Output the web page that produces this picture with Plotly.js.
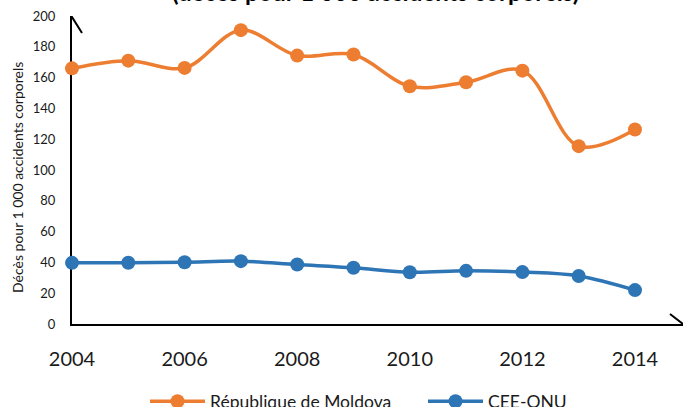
<!DOCTYPE html>
<html>
<head>
<meta charset="utf-8">
<script src="https://cdn.plot.ly/plotly-3.0.1.min.js"></script>
<style>html,body{margin:0;padding:0;background:#fff;}#chart{width:683px;height:407px;}</style>
</head>
<body>
<div id="chart"></div>
<script>
var years = [2004, 2005, 2006, 2007, 2008, 2009, 2010, 2011, 2012, 2013, 2014];
var moldova = [166, 171, 166.3, 190.8, 174.3, 175, 154.4, 157, 164.5, 115.5, 126.3];
var ceeOnu = [39.7, 39.8, 40.1, 40.8, 38.6, 36.5, 33.6, 34.5, 33.7, 31.2, 22];
var seriesNames = ["République de Moldova", "CEE-ONU"];
var xTickVals = [2004, 2006, 2008, 2010, 2012, 2014];
var yTickVals = [0, 20, 40, 60, 80, 100, 120, 140, 160, 180, 200];
var titleText = "(décès pour 1 000 accidents corporels)";
var yTitleText = "Décès pour 1 000 accidents corporels";

var FONT = "Lato, 'Open Sans', sans-serif";
var orange = "#ED7D31", blue = "#2E75B6";

var traces = [
  {x: years, y: moldova, name: seriesNames[0], type: "scatter", mode: "lines+markers",
   line: {color: orange, width: 3.5, shape: "spline", smoothing: 1},
   marker: {color: orange, size: 14, symbol: "circle"}, cliponaxis: false, legend: "legend"},
  {x: years, y: ceeOnu, name: seriesNames[1], type: "scatter", mode: "lines+markers",
   line: {color: blue, width: 3.5, shape: "spline", smoothing: 1},
   marker: {color: blue, size: 14, symbol: "circle"}, cliponaxis: false, legend: "legend2"}
];

function legendAt(px) {
  return {orientation: "h", xref: "container", x: px / 683, xanchor: "left",
          yref: "container", y: 0.014, yanchor: "middle",
          font: {family: FONT, size: 17.5, color: "#1a1a1a"},
          itemwidth: 55, bgcolor: "rgba(0,0,0,0)"};
}

var layout = {
  width: 683, height: 407,
  margin: {l: 72, r: 0, t: 16, b: 83},
  paper_bgcolor: "#fff", plot_bgcolor: "#fff",
  font: {family: FONT, color: "#1a1a1a"},
  showlegend: true,
  legend: legendAt(145),
  legend2: legendAt(423),
  xaxis: {range: [2004, 2014.853], tickvals: xTickVals, ticktext: xTickVals.map(String),
          showgrid: false, zeroline: false, showline: true, linecolor: "#000", linewidth: 2,
          ticks: "", ticklabelstandoff: 16, tickfont: {family: FONT, size: 20, color: "#1a1a1a"},
          layer: "below traces", fixedrange: true},
  yaxis: {range: [0, 200], tickvals: yTickVals, ticktext: yTickVals.map(String),
          showgrid: false, zeroline: false, showline: true, linecolor: "#000", linewidth: 2,
          ticks: "", ticklabelstandoff: 12, tickfont: {family: FONT, size: 13, color: "#1a1a1a"},
          layer: "below traces", fixedrange: true},
  annotations: [
    {text: "<b>" + titleText + "</b>", xref: "paper", yref: "paper", x: (375 - 72) / 611, y: 1.027,
     xanchor: "center", yanchor: "bottom", showarrow: false,
     font: {family: FONT, size: 24, color: "#000"}},
    {text: yTitleText, xref: "paper", yref: "paper", x: (17 - 72) / 611, y: (324 - 178) / 308,
     xanchor: "center", yanchor: "middle", textangle: -90, showarrow: false,
     font: {family: FONT, size: 14, color: "#1a1a1a"}}
  ],
  shapes: [
    {type: "path", xref: "x", yref: "y", xsizemode: "pixel", ysizemode: "pixel",
     xanchor: 2004, yanchor: 200, path: "M -10 -17 L 0 -1 L 10 -17",
     line: {color: "#000", width: 2}},
    {type: "path", xref: "paper", yref: "y", xsizemode: "pixel", ysizemode: "pixel",
     xanchor: 1, yanchor: 0, path: "M -13 10 L 0 0 L -13 -10",
     line: {color: "#000", width: 2}}
  ]
};

Plotly.newPlot("chart", traces, layout, {displayModeBar: false, staticPlot: true});
</script>
</body>
</html>
